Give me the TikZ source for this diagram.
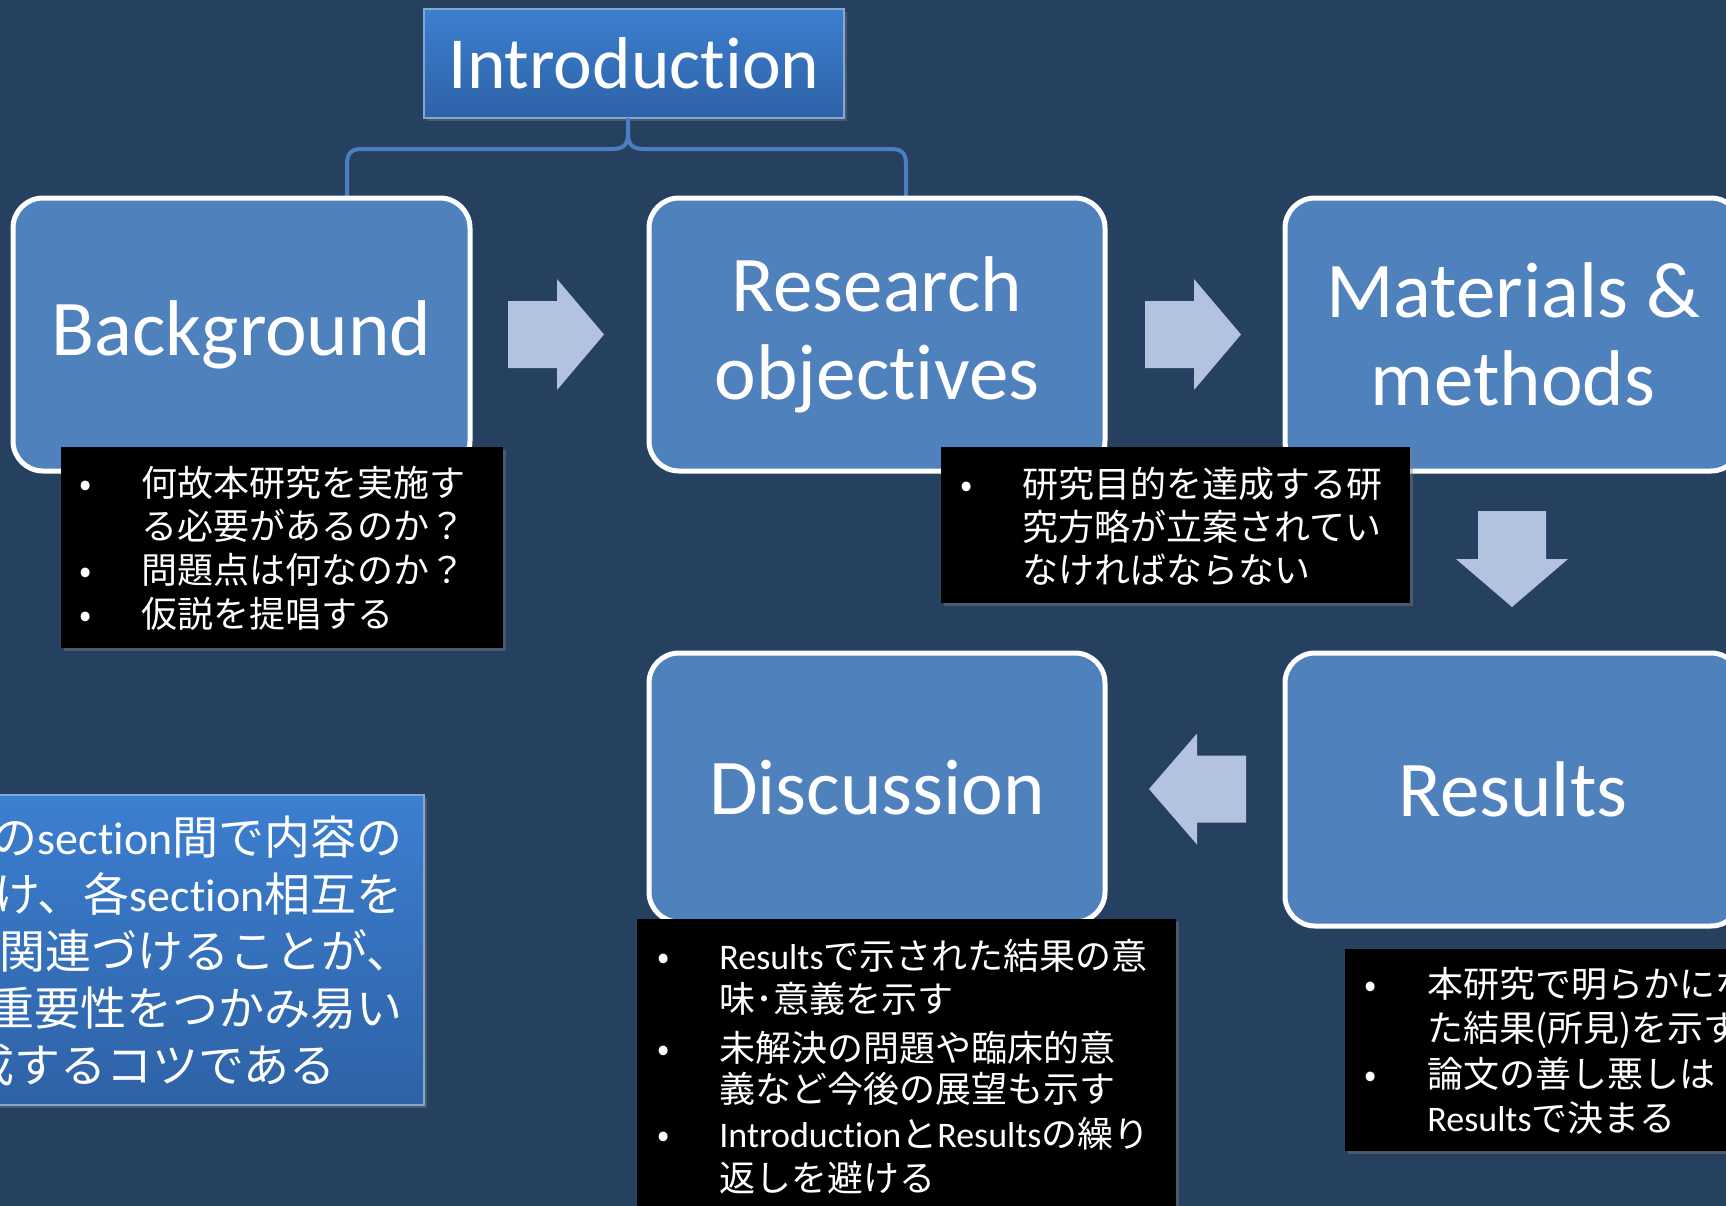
\documentclass[tikz,border=0pt]{standalone}
\usepackage{fontspec}
\setmainfont[Ligatures=NoCommon]{Carlito}
\newfontfamily\jp{Noto Sans CJK JP}
\newcommand\latn[1]{{\rmfamily#1}}
\usetikzlibrary{shadows}
\definecolor{bgc}{RGB}{38,64,96}
\definecolor{boxc}{RGB}{79,129,189}
\definecolor{arrc}{RGB}{179,194,222}
\definecolor{gtop}{RGB}{60,127,208}
\definecolor{gbot}{RGB}{46,98,166}
\definecolor{brc}{RGB}{74,126,192}
\begin{document}
\begin{tikzpicture}[x=0.5pt,y=-0.5pt,
  stage/.style={rectangle, rounded corners=15pt, fill=boxc, draw=white, line width=2.5pt,
    text=white, font=\fontsize{39.5}{44}\selectfont, align=center, inner sep=0pt},
  gradbox/.style={rectangle, top color=gtop, bottom color=gbot, draw=boxc!70!white, line width=0.6pt,
    inner sep=0pt, drop shadow={shadow xshift=1.5pt, shadow yshift=-1.5pt, opacity=0.4}},
  notebox/.style={rectangle, fill=black, inner sep=0pt,
    drop shadow={shadow xshift=1.5pt, shadow yshift=-1.5pt, opacity=0.4}},
  ln/.style={anchor=base west, inner sep=0pt, text=white, font=\jp\fontsize{18}{22}\selectfont},
  blt/.style={anchor=base, inner sep=0pt, text=white, font=\jp\fontsize{18}{22}\selectfont},
  bigln/.style={anchor=base east, inner sep=0pt, text=white, font=\jp\fontsize{23}{28}\selectfont},
  blockarrow/.style={fill=arrc, draw=none},
  bracketline/.style={draw=brc, line width=2pt}
]
\useasboundingbox (0,0) rectangle (1726,1206);
\fill[bgc] (0,0) rectangle (1726,1206);
\clip (0,0) rectangle (1726,1206);

% Introduction
\node[gradbox, minimum width=210pt, minimum height=54.5pt, text=white,
  font=\fontsize{36.7}{40}\selectfont] (intro) at (634,63.5) {Introduction};

% bracket
\coordinate (bt) at (628,118);
\coordinate (bl) at (347,197);
\coordinate (br) at (906,197);
\draw[bracketline] (bt) -- (628,134) .. controls (628,145) and (623,149) .. (612,149)
  -- (362,149) .. controls (351,149) and (347,153) .. (347,165) -- (bl);
\draw[bracketline] (bt) -- (628,134) .. controls (628,145) and (633,149) .. (644,149)
  -- (891,149) .. controls (902,149) and (906,153) .. (906,165) -- (br);

% stage boxes
\node[stage, minimum width=228.5pt, minimum height=136.5pt] (bg) at (241.5,334.5) {Background};
\node[stage, minimum width=228pt, minimum height=136.5pt] (ro) at (877,334.5) {Research\\objectives};
\node[stage, minimum width=228pt, minimum height=136.5pt] (mm) at (1513,334.5) {Materials \&\\methods};
\node[stage, minimum width=228pt, minimum height=134.5pt] (disc) at (877,787.5) {Discussion};
\node[stage, minimum width=228pt, minimum height=136.5pt] (res) at (1513,789.5) {Results};

% block arrows
\fill[blockarrow] (508,301) -- (557,301) -- (557,279) -- (604,334.5) -- (557,390) -- (557,368) -- (508,368) -- cycle;
\fill[blockarrow] (1145,301) -- (1194,301) -- (1194,279) -- (1241,334.5) -- (1194,390) -- (1194,368) -- (1145,368) -- cycle;
\fill[blockarrow] (1478,511) -- (1546,511) -- (1546,559) -- (1568,559) -- (1512,607) -- (1456,559) -- (1478,559) -- cycle;
\fill[blockarrow] (1246,755.5) -- (1197,755.5) -- (1197,733.5) -- (1149,789) -- (1197,844.5) -- (1197,822.5) -- (1246,822.5) -- cycle;

% note 1
\node[notebox, minimum width=221pt, minimum height=100.5pt] (n1) at (282,547.5) {};
\node[blt] (n1b1) at (86,496) {•};
\node[ln] (n1a) at (141,496) {何故本研究を実施す};
\node[ln] (n1b) at (141,539) {る必要があるのか？};
\node[blt] (n1b2) at (86,583) {•};
\node[ln] (n1c) at (141,583) {問題点は何なのか？};
\node[blt] (n1b3) at (86,627) {•};
\node[ln] (n1d) at (141,627) {仮説を提唱する};

% note 2
\node[notebox, minimum width=234.5pt, minimum height=78pt] (n2) at (1175.5,525) {};
\node[blt] (n2b1) at (967,497) {•};
\node[ln] (n2a) at (1022,497) {研究目的を達成する研};
\node[ln] (n2b) at (1022,540) {究方略が立案されてい};
\node[ln] (n2c) at (1022,583) {なければならない};

% note 3
\node[notebox, minimum width=269.5pt, minimum height=155.5pt] (n3) at (906.5,1074.5) {};
\node[blt] (n3b1) at (664,969) {•};
\node[ln] (n3a) at (719,969) {\latn{Results}で示された結果の意};
\node[ln] (n3b) at (719,1012) {味･意義を示す};
\node[blt] (n3b2) at (664,1061) {•};
\node[ln] (n3c) at (719,1061) {未解決の問題や臨床的意};
\node[ln] (n3d) at (719,1102) {義など今後の展望も示す};
\node[blt] (n3b3) at (664,1147) {•};
\node[ln] (n3e) at (719,1147) {\latn{Introduction}と\latn{Results}の繰り};
\node[ln] (n3f) at (719,1191) {返しを避ける};

% note 4
\node[notebox, minimum width=207.5pt, minimum height=101pt] (n4) at (1552.5,1050) {};
\node[blt] (n4b1) at (1371,997) {•};
\node[ln] (n4a) at (1427,997) {本研究で明らかにな};
\node[ln] (n4b) at (1427,1041) {た結果(所見)を示す};
\node[blt] (n4b2) at (1371,1087) {•};
\node[ln] (n4c) at (1427,1087) {論文の善し悪しは};
\node[ln] (n4d) at (1427,1131) {\latn{Results}で決まる};

% left blue box
\node[gradbox, minimum width=217pt, minimum height=155pt] (tip) at (207,950) {};
\node[bigln] (t1) at (403,854) {の\latn{section}間で内容の};
\node[bigln] (t2) at (403,911) {け、各\latn{section}相互を};
\node[bigln] (t3) at (413,968) {関連づけることが、};
\node[bigln] (t4) at (403,1025) {重要性をつかみ易い};
\node[bigln] (t5) at (336,1082) {成するコツである};
\end{tikzpicture}
\end{document}
